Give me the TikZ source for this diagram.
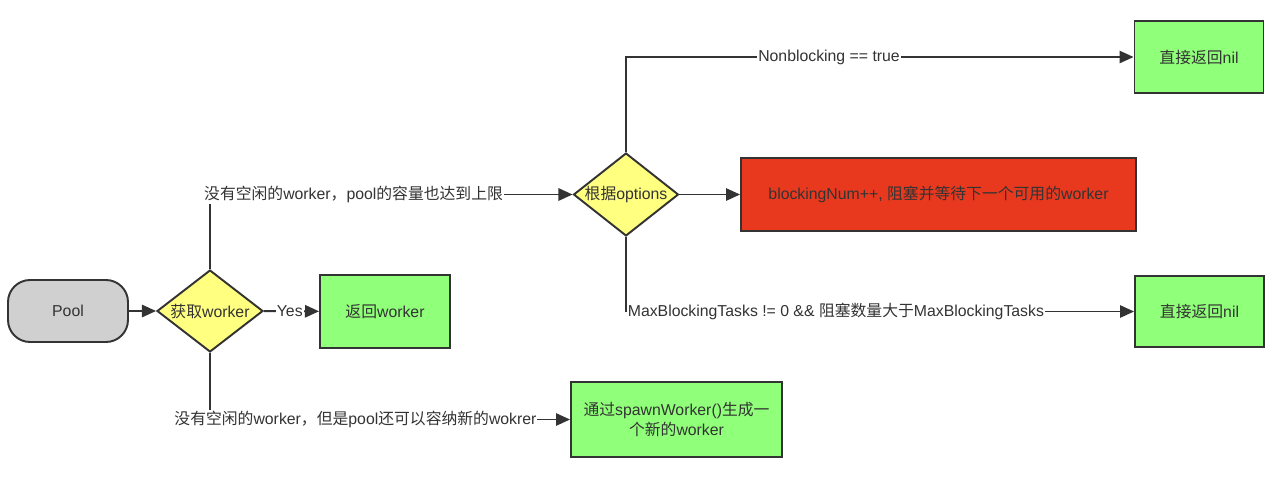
\documentclass[tikz,border=0pt]{standalone}
\usepackage{fontspec}
\setmainfont{Liberation Sans}
\newfontfamily\cjkfont{Noto Sans CJK SC}
\newcommand{\zh}[1]{{\cjkfont #1}}
\usetikzlibrary{shapes.geometric,arrows.meta}
\definecolor{boxgreen}{HTML}{90FF79}
\definecolor{decyellow}{HTML}{FFFF80}
\definecolor{blockred}{HTML}{E8391F}
\definecolor{poolgray}{HTML}{D0D0D0}
\definecolor{linegray}{HTML}{333333}
\tikzset{every node/.style={font=\fontsize{9}{11}\selectfont, text=linegray},
        startbox/.style={draw=linegray, line width=1.1pt, fill=poolgray, rectangle,
                         rounded corners=0.44cm, minimum width=2.4cm, minimum height=1.24cm},
        decision/.style={draw=linegray, line width=1.1pt, fill=decyellow, diamond,
                         aspect=1.27, inner sep=0pt, minimum width=2.12cm, minimum height=1.64cm},
        resultbox/.style={draw=linegray, line width=1.1pt, fill=boxgreen, rectangle,
                          align=center},
        blockbox/.style={draw=linegray, line width=1.1pt, fill=blockred, rectangle},
        flow/.style={draw=linegray, line width=1.1pt, -{Triangle[length=8pt, width=7pt]}},
        cond/.style={fill=white, inner sep=0.5pt},
        }

\begin{document}
\begin{tikzpicture}[x=0.02cm, y=-0.02cm]
    \useasboundingbox (0,0) rectangle (1280,481);

    \node [startbox] (pool) at (68,311) {Pool};
    \node [decision] (getw) at (210,311) {\zh{获取}worker};
    \node [resultbox, minimum width=2.6cm, minimum height=1.46cm] (retw) at (385,311.5) {\zh{返回}worker};

    \node [decision, minimum width=2.1cm, minimum height=1.66cm] (opts) at (626,194.5) {\zh{根据}options};
    \node [resultbox, minimum width=2.58cm, minimum height=1.44cm] (nilA) at (1199,57) {\zh{直接返回}nil};
    \node [blockbox, minimum width=7.9cm, minimum height=1.46cm] (block) at (938.5,194.5)
        {blockingNum++, \zh{阻塞并等待下一个可用的}worker};
    \node [resultbox, minimum width=2.58cm, minimum height=1.42cm] (nilB) at (1199.5,311.5) {\zh{直接返回}nil};

    \node [resultbox, minimum width=4.22cm, minimum height=1.5cm] (spawn) at (676.5,419.5)
        {\zh{通过}spawnWorker()\zh{生成一}\\\zh{个新的}worker};

    % main line
    \draw [flow] (pool) -- (getw);
    \draw [flow] (getw) -- (retw) node[cond, pos=0.47] {Yes};

    % pool is full
    \draw [flow] (getw.north) |- (opts.west)
        node[cond, pos=0.698] {\zh{没有空闲的}worker\zh{，}pool\zh{的容量也达到上限}};
    \draw [flow] (opts.north) |- (nilA.west) node[cond, pos=0.70] {Nonblocking == true};
    \draw [flow] (opts) -- (block);
    \draw [flow] (opts.south) |- (nilB.west)
        node[cond, pos=0.5, anchor=west] {MaxBlockingTasks != 0 \&\& \zh{阻塞数量大于}MaxBlockingTasks};

    % pool can grow
    \draw [flow] (getw.south) |- (spawn.west)
        node[cond, pos=0.702] {\zh{没有空闲的}worker\zh{，但是}pool\zh{还可以容纳新的}wokrer};
\end{tikzpicture}
\end{document}
